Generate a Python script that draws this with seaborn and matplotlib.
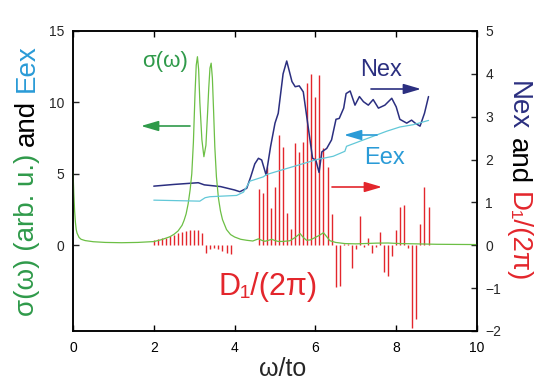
import matplotlib
matplotlib.use('Agg')
import matplotlib.pyplot as plt
import seaborn as sns

# sigma(omega), left axis
sig_omega = [0.0, 0.02, 0.04, 0.06, 0.08, 0.1, 0.15, 0.2, 0.3, 0.5, 0.8, 1.2, 1.6, 2.0,
             2.2, 2.4, 2.5, 2.6, 2.7, 2.75, 2.8, 2.85, 2.9, 2.94, 2.98, 3.02, 3.05, 3.08,
             3.11, 3.14, 3.19, 3.24, 3.29, 3.33, 3.36, 3.39, 3.42, 3.45, 3.48, 3.51, 3.55,
             3.6, 3.65, 3.7, 3.8, 3.9, 4.0, 4.15, 4.3, 4.45, 4.59, 4.67, 4.75, 4.84, 4.92,
             5.0, 5.08, 5.2, 5.37, 5.5, 5.62, 5.7, 5.78, 5.88, 5.99, 6.1, 6.2, 6.28, 6.36,
             6.5, 6.73, 7.0, 7.5, 7.8, 8.1, 8.5, 9.0, 9.5, 10.0]
sigma = [5.2, 3.6, 2.4, 1.6, 1.1, 0.85, 0.55, 0.42, 0.33, 0.25, 0.2, 0.18, 0.2, 0.26,
         0.4, 0.6, 0.77, 1.0, 1.4, 1.75, 2.2, 2.9, 3.9, 5.0, 7.2, 10.6, 12.6, 13.2,
         12.3, 10.0, 7.4, 6.2, 7.0, 9.2, 11.0, 12.4, 12.75, 11.7, 9.4, 6.9, 4.8,
         3.3, 2.4, 1.8, 1.1, 0.75, 0.58, 0.42, 0.35, 0.3, 0.45, 0.35, 0.28, 0.35, 0.42,
         0.33, 0.27, 0.27, 0.32, 0.55, 0.82, 0.55, 0.35, 0.38, 0.54, 0.7, 0.88, 0.6, 0.32,
         0.2, 0.12, 0.1, 0.15, 0.16, 0.12, 0.1, 0.07, 0.06, 0.05]

# Eex, left axis
eex_omega = [2.0, 3.14, 3.27, 3.39, 4.05, 4.22, 4.38, 4.71, 4.79, 5.2, 5.62, 6.03, 6.44,
             6.73, 6.77, 7.1, 7.43, 7.76, 8.09, 8.42, 8.8]
eex = [3.16, 3.09, 3.33, 3.4, 3.49, 3.72, 4.49, 4.79, 4.95, 5.3, 5.65, 6.0, 6.23,
       6.58, 6.93, 7.28, 7.63, 7.98, 8.28, 8.44, 8.74]

# Nex, right axis
nex_omega = [2.0, 2.5, 3.1, 3.25, 3.65, 4.0, 4.13, 4.3, 4.4, 4.5, 4.59, 4.67, 4.78, 4.89,
             5.0, 5.08, 5.2, 5.29, 5.42, 5.5, 5.6, 5.7, 5.82, 5.93, 6.01, 6.09, 6.16, 6.28,
             6.4, 6.51, 6.59, 6.7, 6.76, 6.86, 6.98, 7.09, 7.19, 7.31, 7.43, 7.56, 7.72,
             7.89, 8.0, 8.09, 8.26, 8.38, 8.47, 8.59, 8.7, 8.8]
nex = [1.38, 1.42, 1.46, 1.41, 1.37, 1.29, 1.25, 1.33, 1.6, 1.9, 2.03, 1.99, 1.64, 2.3,
       2.85, 3.08, 4.0, 4.3, 3.82, 3.7, 3.72, 3.58, 2.77, 2.03, 1.99, 1.7, 2.18, 2.26,
       2.46, 2.94, 2.96, 3.2, 3.54, 3.6, 3.27, 3.47, 3.35, 3.27, 3.4, 3.2, 3.27,
       3.43, 3.23, 2.94, 2.85, 2.92, 2.85, 2.78, 3.08, 3.47]

# D1/(2pi) sticks, right axis
d1_omega = [2.0, 2.1, 2.2, 2.3, 2.4, 2.5, 2.6, 2.7, 2.8, 2.9, 3.0, 3.1, 3.2, 3.3, 3.4,
            3.5, 3.6, 3.7, 3.8, 3.9,
            4.6, 4.7, 4.8, 4.9, 5.0, 5.1, 5.2, 5.3, 5.4, 5.5, 5.6, 5.7, 5.8, 5.9, 6.0,
            6.1, 6.2, 6.3, 6.4, 6.5, 6.6, 6.7, 6.8, 6.9, 7.0, 7.1, 7.2, 7.3, 7.4, 7.5,
            7.6, 7.7, 7.8, 7.9, 8.0, 8.1, 8.2, 8.3, 8.4, 8.5, 8.6, 8.7, 8.8]
d1 = [0.12, 0.14, 0.16, 0.18, 0.22, 0.25, 0.28, 0.31, 0.33, 0.35, 0.36, 0.35, 0.29,
      -0.19, -0.08, -0.06, -0.09, -0.14, -0.19, -0.21,
      1.31, 1.21, 1.82, 0.88, 1.37, 2.57, 2.29, 0.75, 0.38, 2.38, 2.18, 2.42, 3.78, 3.99,
      3.47, 3.98, 2.26, 1.83, 0.74, -0.98, -0.94, 0.03, 0.03, -0.52, -0.09, 0.69, -0.03,
      0.17, -0.17, -0.05, 0.31, -0.63, -0.71, -0.24, 0.36, 0.89, 0.94, -0.06, -1.93,
      -1.72, 0.5, 1.35, 0.89]

GREEN_LINE = '#6cbf45'
GREEN = '#2f9a4a'
NAVY = '#2b2f80'
CYAN_LINE = '#62c8d8'
BLUE = '#2a9bd7'
RED = '#e3262c'

sns.set_style('ticks')
plt.rcParams['font.family'] = ['Liberation Sans', 'DejaVu Sans']

W, H = 536, 385
fig, ax = plt.subplots(figsize=(W / 100, H / 100), dpi=100)
fig.subplots_adjust(left=73 / W, right=477 / W, bottom=1 - 331 / H, top=1 - 31 / H)
ax2 = ax.twinx()

ax2.vlines(d1_omega, 0, d1, colors=RED, lw=1.0)
sns.lineplot(x=nex_omega, y=nex, ax=ax2, color=NAVY, lw=1.1)
sns.lineplot(x=sig_omega, y=sigma, ax=ax, color=GREEN_LINE, lw=0.9)
sns.lineplot(x=eex_omega, y=eex, ax=ax, color=CYAN_LINE, lw=0.9)

ax.set_zorder(ax2.get_zorder() + 1)
ax.patch.set_visible(False)

ax.set_xlim(0, 10)
ax.set_ylim(-6, 15)
ax2.set_ylim(-2, 5)
ax.set_xticks([0, 2, 4, 6, 8, 10])
ax.set_yticks([0, 5, 10, 15])
ax2.set_yticks([-2, -1, 0, 1, 2, 3, 4, 5])
ax.tick_params(axis='x', direction='in', top=True, length=4, width=1, labelsize=10, pad=7, colors='black')
ax.tick_params(axis='y', direction='in', length=4, width=1, labelsize=10, pad=6)
ax2.tick_params(axis='y', direction='in', length=4, width=1, labelsize=10, pad=6)
for a in (ax, ax2):
    for s in a.spines.values():
        s.set_linewidth(1.1)
        s.set_color('black')
        s.set_visible(True)
ax.set_ylabel('')
ax2.set_ylabel('')
ax.set_xlabel('ω/to', fontsize=18, labelpad=2)
ax.xaxis.set_label_coords(0.52, -0.085)


def fpos(x, y):
    # image pixel -> figure fraction
    return (x / W, 1 - y / H)


def arrow(x0, y0, x1, y1, color):
    ax.annotate('', xy=fpos(x1, y1), xytext=fpos(x0, y0),
                xycoords='figure fraction', textcoords='figure fraction',
                arrowprops=dict(arrowstyle='-|>,head_length=0.75,head_width=0.22',
                                color=color, lw=1.2, mutation_scale=14,
                                shrinkA=0, shrinkB=0))


fig.text(*fpos(165, 62), 'σ(ω)', color=GREEN, fontsize=16, ha='center', va='center')
arrow(190, 126, 141, 126, GREEN)
fig.text(*fpos(381, 70), 'Nex', color=NAVY, fontsize=17, ha='center', va='center')
arrow(371, 89, 421, 89, NAVY)
arrow(377, 135, 344, 135, BLUE)
fig.text(*fpos(384, 158), 'Eex', color=BLUE, fontsize=17, ha='center', va='center')
arrow(332, 187, 382, 187, RED)
fig.text(*fpos(268, 287), 'D₁/(2π)', color=RED, fontsize=22, ha='center', va='center')


def stacked_label(pieces, x, yc, rot, size):
    texts = [fig.text(*fpos(x, yc), s, color=c, rotation=rot, fontsize=size,
                      ha='center', va='center') for s, c in pieces]
    fig.canvas.draw()
    r = fig.canvas.get_renderer()
    lens = [t.get_window_extent(r).height for t in texts]
    gap = size * 0.28 * 100 / 72
    total = sum(lens) + gap * (len(lens) - 1)
    if rot == 90:
        pos = yc + total / 2
        for t, l in zip(texts, lens):
            t.set_position(fpos(x, pos - l / 2))
            pos -= l + gap
    else:
        pos = yc - total / 2
        for t, l in zip(texts, lens):
            t.set_position(fpos(x, pos + l / 2))
            pos += l + gap


stacked_label([('σ(ω) (arb. u.)', GREEN), ('and', 'black'), ('Eex', BLUE)], 27, 180, 90, 20)
stacked_label([('Nex', NAVY), ('and', 'black'), ('D₁/(2π)', RED)], 518, 182, 270, 20)

fig.savefig('out.png', dpi=100)
